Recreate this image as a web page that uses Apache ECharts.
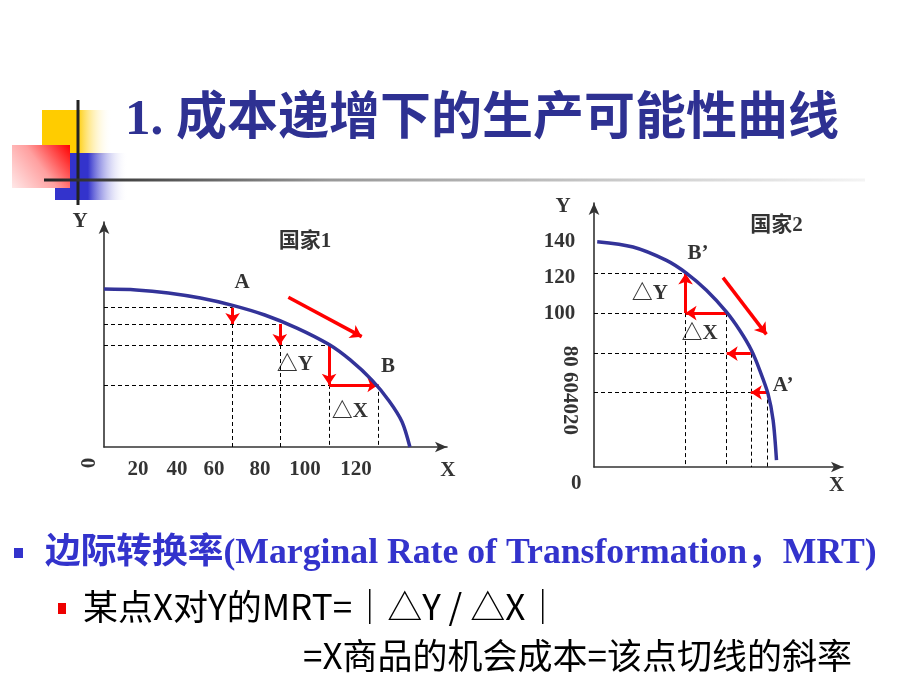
<!DOCTYPE html>
<html><head><meta charset="utf-8">
<script src="https://cdn.jsdelivr.net/npm/echarts@6/dist/echarts.min.js"></script>
<style>html,body{margin:0;padding:0;background:#fff}#c{width:920px;height:690px}</style>
</head><body><div id="c"></div>
<script>
// ---- Country 1 (left chart) ----
const curve1X = [0, 15, 30, 45, 60, 75, 90, 105, 115, 125, 133, 139, 142.7];
const curve1Y = [73.7, 73.3, 71.9, 69.5, 66.1, 61.6, 55.5, 47.8, 40.5, 31.2, 21.5, 11.8, 0];
const pts1X = [60, 82, 105, 128];
const lvl1Y = [65, 57.4, 47.6, 29];
const bigArrow1 = [[86, 69.9], [120.2, 51.5]];
const tick1Labels = ['20', '40', '60', '80', '100', '120'];
const tick1Pos = [15.9, 34, 51.3, 72.8, 93.8, 117.5];

// ---- Country 2 (right chart) ----
const curve2X = [2, 24.3, 45.1, 57.5, 70, 82.4, 90.7, 98, 103.2, 108.3, 111.5, 113.6];
const curve2Y = [139.8, 136.5, 128.2, 120.3, 109.6, 96.2, 84.8, 72.4, 60, 45.5, 29, 4.2];
const pts2X = [57, 82.6, 97.6, 108];
const lvl2Y = [120, 95.5, 70.3, 46.2];
const bigArrow2 = [[80.3, 117.5], [107.3, 82.3]];
const tick2Labels = ['140', '120', '100'];
const tick2Pos = [139.6, 117.5, 95.2];

const zip = (a, b) => a.map((v, i) => [v, b[i]]);

const dash1 = [
  [[0, lvl1Y[0]], [pts1X[0], lvl1Y[0]]],
  [[0, lvl1Y[1]], [pts1X[1], lvl1Y[1]]],
  [[0, lvl1Y[2]], [pts1X[2], lvl1Y[2]]],
  [[0, lvl1Y[3]], [pts1X[2], lvl1Y[3]]],
  [[pts1X[0], lvl1Y[1]], [pts1X[0], 0]],
  [[pts1X[1], lvl1Y[2]], [pts1X[1], 0]],
  [[pts1X[2], lvl1Y[3]], [pts1X[2], 0]],
  [[pts1X[3], lvl1Y[3]], [pts1X[3], 0]]
];
const red1 = [
  [[pts1X[0], lvl1Y[0]], [pts1X[0], lvl1Y[1]]],
  [[pts1X[1], lvl1Y[1]], [pts1X[1], lvl1Y[2]]],
  [[pts1X[2], lvl1Y[2]], [pts1X[2], lvl1Y[3]]],
  [[pts1X[2], lvl1Y[3]], [pts1X[3], lvl1Y[3]]]
];
const dash2 = [
  [[0, lvl2Y[0]], [pts2X[0], lvl2Y[0]]],
  [[0, lvl2Y[1]], [pts2X[0], lvl2Y[1]]],
  [[0, lvl2Y[2]], [pts2X[1], lvl2Y[2]]],
  [[0, lvl2Y[3]], [pts2X[2], lvl2Y[3]]],
  [[pts2X[0], lvl2Y[1]], [pts2X[0], 0]],
  [[pts2X[1], lvl2Y[1]], [pts2X[1], 0]],
  [[pts2X[2], lvl2Y[2]], [pts2X[2], 0]],
  [[pts2X[3], lvl2Y[3]], [pts2X[3], 0]]
];
const red2 = [
  [[pts2X[3], lvl2Y[3]], [pts2X[2], lvl2Y[3]]],
  [[pts2X[2], lvl2Y[2]], [pts2X[1], lvl2Y[2]]],
  [[pts2X[1], lvl2Y[1]], [pts2X[0], lvl2Y[1]]],
  [[pts2X[0], lvl2Y[1]], [pts2X[0], lvl2Y[0]]]
];

const serif = "'Liberation Serif', 'Times New Roman', 'Noto Sans CJK SC', serif";
const texts1 = [
  [64.4, 76.5, 'A'], [132.5, 37.3, 'B'], [89, 38.3, '△Y'], [114.7, 16.3, '△X'],
  [93.8, 95.7, '国家1'], [-11.2, 105, 'Y'], [160.4, -11.2, 'X']
].concat(tick1Labels.map((t, i) => [tick1Pos[i], -10.7, t]));
const texts2 = [
  [-19.3, 161.3, 'Y'], [113.6, 150, '国家2'], [-11, -10.3, '0'], [151, -11.4, 'X'],
  [64.8, 132.4, 'B’'], [117.7, 50.7, 'A’'], [34.7, 107.6, '△Y'], [65.8, 82.8, '△X']
].concat(tick2Labels.map((t, i) => [-21.4, tick2Pos[i], t]));

function axisPair(idx, xmax, ymax) {
  const common = {
    type: 'value', gridIndex: idx, min: 0,
    axisLine: { show: true, symbol: ['none', 'arrow'], symbolSize: [8, 12], lineStyle: { color: '#333', width: 1.6 } },
    axisTick: { show: false }, axisLabel: { show: false }, splitLine: { show: false }
  };
  return [Object.assign({}, common, { max: xmax }), Object.assign({}, common, { max: ymax })];
}
const ax1 = axisPair(0, 160, 105);
const ax2 = axisPair(1, 155, 163.8);

function textSeries(idx, arr, extra) {
  return {
    type: 'scatter', xAxisIndex: idx, yAxisIndex: idx, symbolSize: 0, clip: false, silent: true, z: 10,
    data: arr.map(d => ({ value: d })).concat(extra || []),
    label: { show: true, position: 'inside', formatter: p => p.data.value[2], color: '#000',
      fontFamily: serif, fontWeight: 'bold', fontSize: 21 }
  };
}
function segSeries(idx, segs, style, arrow) {
  return {
    type: 'lines', coordinateSystem: 'cartesian2d', xAxisIndex: idx, yAxisIndex: idx, silent: true,
    symbol: arrow ? ['none', 'arrow'] : 'none', symbolSize: arrow ? 11 : 0,
    lineStyle: style, data: segs.map(s => ({ coords: s })), z: 3
  };
}
const dashStyle = { color: '#000', width: 1, type: [4, 3], opacity: 1 };
const redStyle = { color: '#FF0000', width: 3, opacity: 1 };

const option = {
  animation: false,
  backgroundColor: '#fff',
  grid: [
    { left: 104, top: 222, width: 343, height: 225 },
    { left: 594, top: 203, width: 249, height: 264 }
  ],
  xAxis: [ax1[0], ax2[0]],
  yAxis: [ax1[1], ax2[1]],
  series: [
    { type: 'line', xAxisIndex: 0, yAxisIndex: 0, data: zip(curve1X, curve1Y), smooth: 0.3, symbol: 'none',
      lineStyle: { color: '#333399', width: 3.5 }, z: 5 },
    { type: 'line', xAxisIndex: 1, yAxisIndex: 1, data: zip(curve2X, curve2Y), smooth: 0.3, symbol: 'none',
      lineStyle: { color: '#333399', width: 3.5 }, z: 5 },
    segSeries(0, dash1, dashStyle, false),
    segSeries(1, dash2, dashStyle, false),
    segSeries(0, red1, redStyle, true),
    segSeries(1, red2, redStyle, true),
    segSeries(0, [bigArrow1], { color: '#FF0000', width: 3.5, opacity: 1 }, true),
    segSeries(1, [bigArrow2], { color: '#FF0000', width: 3.5, opacity: 1 }, true),
    textSeries(0, texts1, [{ value: [-6.5, -7.5, '0'], label: { rotate: 90 } }]),
    textSeries(1, texts2, [{ value: [-15.1, 47.6, '80 604020'], label: { rotate: -90 } }])
  ],
  graphic: [
    { type: 'rect', shape: { x: 42, y: 110, width: 70, height: 45 }, z: 1,
      style: { fill: new echarts.graphic.LinearGradient(0, 0, 1, 0, [
        { offset: 0, color: '#FFCC00' }, { offset: 0.5, color: '#FFCC00' }, { offset: 1, color: 'rgba(255,255,255,0)' }]) } },
    { type: 'rect', shape: { x: 55, y: 153, width: 73, height: 47 }, z: 2,
      style: { fill: new echarts.graphic.LinearGradient(0, 0, 1, 0, [
        { offset: 0, color: '#3333CC' }, { offset: 0.45, color: '#3333CC' }, { offset: 1, color: 'rgba(255,255,255,0)' }]) } },
    { type: 'rect', shape: { x: 12, y: 145, width: 58, height: 43 }, z: 3,
      style: { fill: new echarts.graphic.LinearGradient(1, 0, 0, 1, [
        { offset: 0, color: '#FF0000' }, { offset: 0.5, color: '#FFA0A0' }, { offset: 1, color: '#FFE8E8' }]) } },
    { type: 'line', shape: { x1: 78, y1: 100, x2: 78, y2: 205 }, z: 4, style: { stroke: '#222', lineWidth: 3 } },
    { type: 'line', shape: { x1: 44, y1: 180, x2: 865, y2: 180 }, z: 4,
      style: { lineWidth: 3, stroke: new echarts.graphic.LinearGradient(0, 0, 1, 0, [
        { offset: 0, color: '#222' }, { offset: 0.35, color: '#999' }, { offset: 1, color: '#f4f4f4' }]) } },
    { type: 'text', x: 125, y: 121, z: 5, style: { text: '1. 成本递增下的生产可能性曲线', fill: '#2E3192',
      font: "bold 51px 'Liberation Serif', 'Noto Sans CJK SC'", verticalAlign: 'middle' } },
    { type: 'rect', shape: { x: 14, y: 548, width: 9, height: 10 }, style: { fill: '#3333CC' } },
    { type: 'text', x: 45, y: 554, style: { text: '边际转换率(Marginal Rate of Transformation，MRT)', fill: '#3333CC',
      font: "bold 35.7px 'Liberation Serif', 'Noto Sans CJK SC'", verticalAlign: 'middle' } },
    { type: 'rect', shape: { x: 58, y: 603, width: 8, height: 11 }, style: { fill: '#EE0000' } },
    { type: 'text', x: 83, y: 607, style: { text: '某点X对Y的MRT=｜△Y / △X｜', fill: '#000',
      font: "35px 'Noto Sans CJK SC'", verticalAlign: 'middle' } },
    { type: 'text', x: 303, y: 656, style: { text: '=X商品的机会成本=该点切线的斜率', fill: '#000',
      font: "35px 'Noto Sans CJK SC'", verticalAlign: 'middle' } }
  ]
};
const chart = echarts.init(document.getElementById('c'));
chart.setOption(option);
</script></body></html>
